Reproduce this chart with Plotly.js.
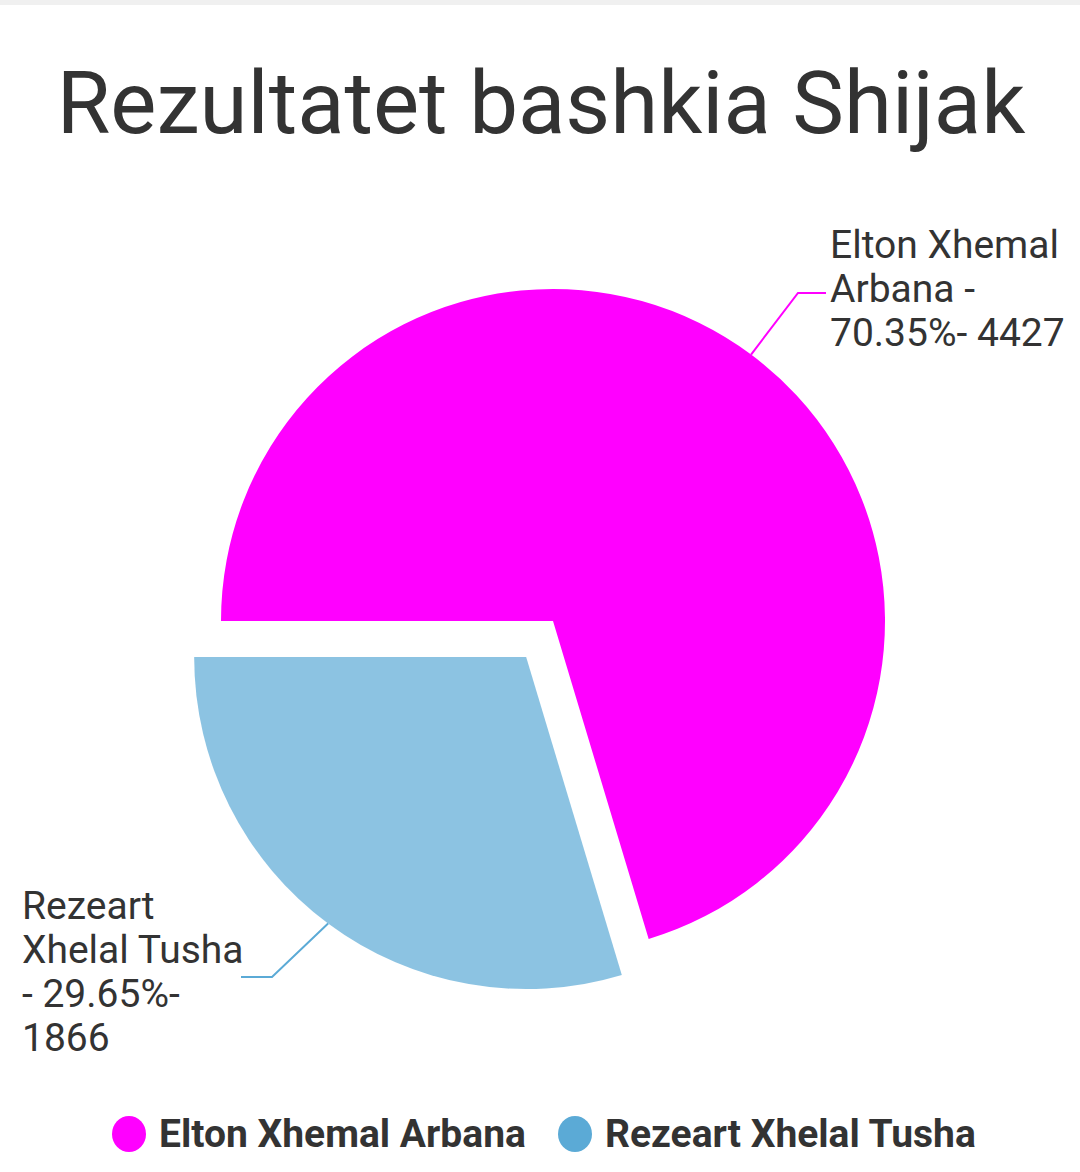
<!DOCTYPE html>
<html>
<head>
<meta charset="utf-8">
<script src="https://cdn.plot.ly/plotly-3.0.1.min.js"></script>
<style>
  html, body { margin: 0; padding: 0; background: #ffffff; }
  #chart { width: 1080px; height: 1172px; }
</style>
</head>
<body>
<div id="chart"></div>
<script>
// Election results, Shijak municipality
const candidates = ['Elton Xhemal Arbana', 'Rezeart Xhelal Tusha'];
const votes = [4427, 1866];
const percents = ['70.35%', '29.65%'];
const sliceColors = ['#ff00ff', 'rgba(91,170,214,0.7)'];
const keyColors = ['#ff00ff', '#5baad6'];
const pulls = [0, 0.1355];
const labelLines = [
  ['Elton Xhemal', 'Arbana -', percents[0] + '- ' + votes[0]],
  ['Rezeart', 'Xhelal Tusha', '- ' + percents[1] + '-', String(votes[1])]
];

const W = 1080, H = 1172;
const px = x => x / W;
const py = y => 1 - y / H;

// pie geometry (pixels)
const cx = 553, cy = 621, R = 332;
const maxPull = Math.max(...pulls);
const half = R * (1 + maxPull);
const domain = {
  x: [px(cx - half), px(cx + half)],
  y: [py(cy + half), py(cy - half)]
};

// mid-angle of every slice, starting at 9 o'clock and running clockwise
const total = votes.reduce((a, b) => a + b, 0);
let acc = 0;
const mids = votes.map(v => {
  const m = 180 - (acc + v / 2) / total * 360;
  acc += v;
  return m * Math.PI / 180;
});

// label anchors (left edge, middle of first line) and leader elbows, in pixels
const labelPos = [{x: 828, y: 244.5}, {x: 20, y: 906}];
const lineStep = 44;
const elbows = [{x: 798, y: 293, ex: 826}, {x: 272, y: 977, ex: 241}];

const shapes = [
  {type: 'rect', xref: 'paper', yref: 'paper', x0: 0, x1: 1, y0: py(5), y1: 1,
   fillcolor: '#f0f0f0', line: {width: 0}, layer: 'below'}
];

mids.forEach((a, i) => {
  const dx = Math.cos(a), dy = -Math.sin(a);
  const scx = cx + pulls[i] * R * dx, scy = cy + pulls[i] * R * dy;
  const sx = scx + R * dx, sy = scy + R * dy;
  const e = elbows[i];
  shapes.push({
    type: 'path', xref: 'paper', yref: 'paper',
    path: `M ${px(sx)} ${py(sy)} L ${px(e.x)} ${py(e.y)} L ${px(e.ex)} ${py(e.y)}`,
    line: {color: keyColors[i], width: 2}
  });
});

const annotations = [];
labelLines.forEach((lines, i) => {
  lines.forEach((t, k) => {
    annotations.push({
      text: t, xref: 'paper', yref: 'paper',
      x: px(labelPos[i].x), y: py(labelPos[i].y + k * lineStep),
      xanchor: 'left', yanchor: 'middle', align: 'left', showarrow: false,
      font: {family: 'Roboto, sans-serif', size: 39, color: '#333333'}
    });
  });
});

// legend: coloured dots and bold names
const keyX = [129, 575];
const keyY = 1134;
candidates.forEach((c, i) => {
  shapes.push({
    type: 'circle', xref: 'paper', yref: 'paper',
    x0: px(keyX[i] - 17), x1: px(keyX[i] + 17),
    y0: py(keyY + 18), y1: py(keyY - 18),
    fillcolor: keyColors[i], line: {width: 0}
  });
  annotations.push({
    text: '<b>' + c + '</b>', xref: 'paper', yref: 'paper',
    x: px(keyX[i] + 28), y: py(keyY), xanchor: 'left', yanchor: 'middle',
    showarrow: false,
    font: {family: 'Roboto, sans-serif', size: 39, color: '#333333'}
  });
});

const data = [{
  type: 'pie',
  labels: candidates,
  values: votes,
  marker: {colors: sliceColors, line: {width: 0}},
  pull: pulls,
  sort: false,
  direction: 'clockwise',
  rotation: 270,
  textinfo: 'none',
  hoverinfo: 'label+value+percent',
  domain: domain,
  showlegend: false
}];

const layout = {
  width: W, height: H,
  margin: {l: 0, r: 0, t: 0, b: 0},
  paper_bgcolor: '#ffffff',
  showlegend: false,
  title: {
    text: 'Rezultatet bashkia Shijak',
    x: px(541), xanchor: 'center',
    y: py(103), yanchor: 'middle',
    font: {family: 'Roboto, sans-serif', size: 87, color: '#333333'}
  },
  shapes: shapes,
  annotations: annotations
};

Plotly.newPlot('chart', data, layout, {displayModeBar: false, staticPlot: true});
</script>
</body>
</html>
